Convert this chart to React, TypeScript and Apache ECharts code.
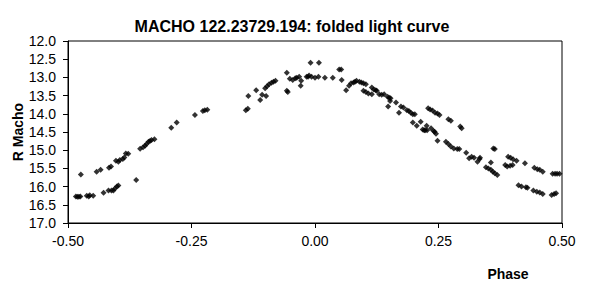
import React, { useEffect, useRef } from "react";
import * as echarts from "echarts";

const titleText = "MACHO 122.23729.194: folded light curve";
const xAxisTitle = "Phase";
const yAxisTitle = "R Macho";

const phase: number[] = [
  -0.484, -0.481, -0.478, -0.475, -0.474, -0.462, -0.458, -0.456, -0.449, -0.442,
  -0.434, -0.428, -0.418, -0.417, -0.413, -0.412, -0.408, -0.405, -0.403, -0.401,
  -0.398, -0.398, -0.395, -0.389, -0.386, -0.383, -0.378, -0.362, -0.354, -0.348,
  -0.344, -0.341, -0.337, -0.334, -0.331, -0.325, -0.291, -0.280,
  -0.243, -0.227, -0.223, -0.218, -0.140, -0.136, -0.135, -0.119, -0.111, -0.107,
  -0.099, -0.101, -0.097, -0.093, -0.088, -0.084, -0.080, -0.057, -0.057, -0.055,
  -0.051, -0.045, -0.040, -0.037, -0.032, -0.028, -0.029, -0.017, -0.014, -0.009,
  -0.012, -0.007, 0.000, 0.007, 0.020, 0.036, 0.008, 0.049, 0.053, 0.054,
  0.063, 0.069, 0.073, 0.078, 0.081, 0.084, 0.090, 0.094, 0.098, 0.103,
  0.098, 0.103, 0.108, 0.115, 0.115, 0.119, 0.123, 0.125, 0.130, 0.135,
  0.140, 0.147, 0.150, 0.153, 0.152, 0.148, 0.164, 0.170, 0.174, 0.179,
  0.186, 0.190, 0.194, 0.198, 0.202, 0.198, 0.206, 0.214, 0.221, 0.226,
  0.229, 0.218, 0.223, 0.227, 0.233, 0.238, 0.243, 0.248, 0.252, 0.235,
  0.240, 0.242, 0.245, 0.248, 0.270, 0.275, 0.265, 0.270, 0.275, 0.281,
  0.288, 0.292, 0.294, 0.297, 0.306, 0.312, 0.317, 0.322, 0.329, 0.333,
  0.334, 0.346, 0.351, 0.356, 0.360, 0.364, 0.369, 0.356, 0.361, 0.364,
  0.385, 0.389, 0.395, 0.400, 0.391, 0.396, 0.401, 0.408, 0.425, 0.412,
  0.418, 0.427, 0.430, 0.442, 0.449, 0.455, 0.461, 0.444, 0.450, 0.455,
  0.461, 0.481, 0.486, 0.490, 0.495, 0.479, 0.484, 0.488,
];

const magnitude: number[] = [
  16.27, 16.28, 16.28, 16.27, 15.67, 16.25, 16.27, 16.24, 16.25, 15.59,
  15.54, 16.17, 16.11, 15.48, 15.45, 16.11, 16.11, 16.05, 15.29, 16.0,
  15.97, 15.32, 15.27, 15.24, 15.2, 15.09, 15.1, 15.82, 14.96, 14.92,
  14.88, 14.83, 14.77, 14.75, 14.72, 14.7, 14.38, 14.24,
  14.03, 13.92, 13.9, 13.89, 13.9, 13.86, 13.51, 13.35, 13.62, 13.48,
  13.51, 13.3, 13.24, 13.19, 13.15, 13.12, 13.09, 12.87, 13.37, 13.4,
  13.04, 13.07, 13.02, 13.01, 12.98, 13.09, 13.23, 12.98, 12.98, 12.6,
  12.95, 12.98, 13.01, 12.98, 13.01, 13.01, 12.6, 12.78, 12.78, 13.07,
  13.35, 13.23, 13.16, 13.14, 13.12, 13.09, 13.12, 13.14, 13.16, 13.19,
  13.37, 13.4, 13.44, 13.46, 13.28, 13.33, 13.35, 13.37, 13.46, 13.48,
  13.46, 13.53, 13.56, 13.57, 13.65, 13.8, 13.69, 13.97, 13.8, 13.83,
  13.9, 13.92, 13.97, 14.01, 14.01, 14.24, 14.33, 14.22, 14.45, 14.33,
  13.85, 14.43, 14.45, 14.45, 13.88, 13.91, 13.97, 13.99, 14.03, 14.4,
  14.47, 14.49, 14.55, 14.74, 14.15, 14.19, 14.77, 14.83, 14.9, 14.95,
  14.97, 14.97, 14.35, 14.4, 15.07, 15.22, 15.18, 15.21, 15.32, 15.24,
  15.21, 15.47, 15.5, 15.54, 15.59, 15.63, 15.68, 15.34, 14.95, 14.97,
  15.41, 15.45, 15.43, 15.41, 15.18, 15.21, 15.25, 15.29, 15.36, 15.96,
  16.0, 16.02, 16.03, 16.11, 16.14, 16.16, 16.2, 15.48, 15.52, 15.54,
  15.59, 15.65, 15.65, 15.65, 15.65, 16.23, 16.2, 16.18,
];

const FONT = "'Liberation Sans', Arial, sans-serif";

export default function App() {
  const ref = useRef<HTMLDivElement>(null);
  useEffect(() => {
    if (!ref.current) return;
    const chart = echarts.init(ref.current, null, { renderer: "svg" });
    const data = phase.map((p, i) => [p, magnitude[i]]);
    chart.setOption({
      animation: false,
      backgroundColor: "#fff",
      textStyle: { fontFamily: FONT },
      title: {
        text: titleText,
        left: 287,
        textAlign: "center",
        top: 13,
        textStyle: { fontFamily: FONT, fontSize: 16, fontWeight: "bold", color: "#000" },
      },
      grid: {
        left: 68,
        right: 28,
        top: 41,
        bottom: 72,
        show: true,
        borderColor: "#000",
        borderWidth: 1,
        backgroundColor: "transparent",
      },
      xAxis: {
        type: "value",
        min: -0.5,
        max: 0.5,
        interval: 0.25,
        axisLine: { show: true, onZero: false, lineStyle: { color: "#000", width: 1 } },
        axisTick: { show: true, length: 5, inside: false, lineStyle: { color: "#000" } },
        splitLine: { show: false },
        axisLabel: {
          color: "#000",
          fontSize: 14,
          fontFamily: FONT,
          margin: 11,
          formatter: (v: number) => v.toFixed(2),
        },
      },
      yAxis: {
        type: "value",
        inverse: true,
        min: 12,
        max: 17,
        interval: 0.5,
        axisLine: { show: true, onZero: false, lineStyle: { color: "#000", width: 1 } },
        axisTick: { show: true, length: 5, inside: false, lineStyle: { color: "#000" } },
        splitLine: { show: false },
        axisLabel: {
          color: "#000",
          fontSize: 14,
          fontFamily: FONT,
          margin: 12,
          formatter: (v: number) => v.toFixed(1),
        },
      },
      graphic: [
        {
          type: "text",
          x: 508,
          y: 274,
          style: {
            text: xAxisTitle,
            font: `bold 14px ${FONT}`,
            fill: "#000",
            align: "center",
            verticalAlign: "middle",
          },
        },
        {
          type: "text",
          x: 18,
          y: 132,
          rotation: Math.PI / 2,
          style: {
            text: yAxisTitle,
            font: `bold 14px ${FONT}`,
            fill: "#000",
            align: "center",
            verticalAlign: "middle",
          },
        },
      ],
      series: [
        {
          type: "scatter",
          data,
          symbol: "diamond",
          symbolSize: 6,
          itemStyle: { color: "#000" },
        },
      ],
    });
    return () => chart.dispose();
  }, []);
  return <div ref={ref} style={{ width: 590, height: 295, position: "absolute", left: 0, top: 0 }} />;
}
